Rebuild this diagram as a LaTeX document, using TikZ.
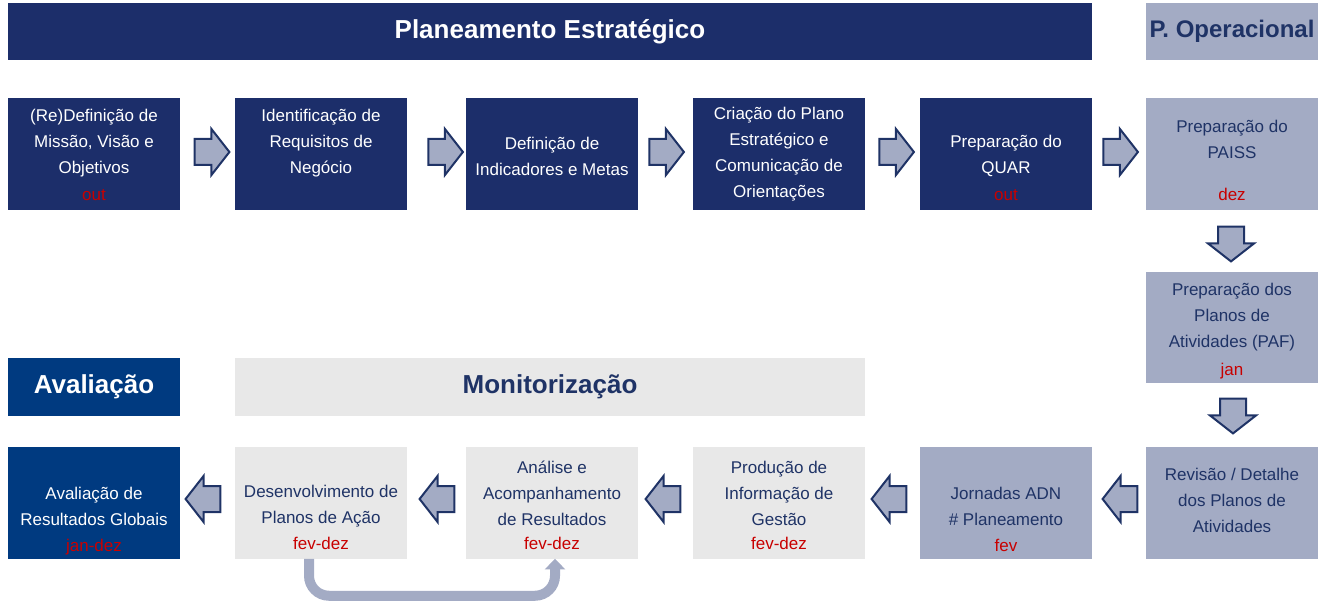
\documentclass[tikz,border=0pt]{standalone}
\usepackage{fontspec}
\setmainfont{Liberation Sans}
\usetikzlibrary{shapes.arrows,arrows.meta}

\definecolor{navy}{HTML}{1C2E6A}
\definecolor{avalblue}{HTML}{003A80}
\definecolor{slate}{HTML}{A3ABC4}
\definecolor{monigray}{HTML}{E8E8E8}
\definecolor{datered}{HTML}{C80000}
\definecolor{darktext}{HTML}{1F3366}

\tikzset{
  head/.style={minimum width=129pt, minimum height=43pt, inner sep=0pt,
    font=\bfseries\fontsize{19.5}{22}\selectfont},
  panel/.style={minimum width=129pt, minimum height=84pt, inner sep=0pt},
  txt/.style={align=center, inner sep=0pt, font=\fontsize{12.75}{19.5}\selectfont},
  date/.style={inner sep=0pt, text=datered, text height=9pt, text depth=3pt,
    font=\fontsize{12.75}{19.5}\selectfont},
  blockarrow/.style={single arrow, single arrow head extend=7.5pt,
    single arrow tip angle=104, minimum height=26pt, minimum width=33pt,
    inner xsep=0pt, inner ysep=9pt, fill=slate, draw=darktext, line width=1.5pt},
  loopline/.style={draw=slate, line width=7.5pt, rounded corners=15pt,
    -{Triangle[width=15pt,length=8pt]}}
}

\begin{document}
\begin{tikzpicture}[x=0.75pt,y=-0.75pt]
    \useasboundingbox (0,0) rectangle (1335,602);
    % headers
    \node[head, fill=navy, text=white, minimum width=813pt] (hpe) at (550,31.5) {Planeamento Estratégico};
    \node[head, fill=slate, text=darktext, font=\bfseries\fontsize{18}{20}\selectfont] (hpo) at (1232,31.5) {P. Operacional};
    \node[head, fill=avalblue, text=white] (hav) at (94,387) {Avaliação};
    \node[head, fill=monigray, text=darktext, minimum width=472.5pt] (hmon) at (550,387) {Monitorização};

    % planeamento estrategico
    \node[panel, fill=navy] (mvo) at (94,154) {};
    \node[panel, fill=navy] (req) at (321,154) {};
    \node[panel, fill=navy] (ind) at (552,154) {};
    \node[panel, fill=navy] (pe) at (779,154) {};
    \node[panel, fill=navy] (quar) at (1006,154) {};
    \node[txt, text=white] (mvo-t) at (94,143) {(Re)Definição de\\Missão, Visão e\\Objetivos};
    \node[date] (mvo-d) at (94,197) {out};
    \node[txt, text=white] (req-t) at (321,143) {Identificação de\\Requisitos de\\Negócio};
    \node[txt, text=white] (ind-t) at (552,156) {Definição de\\Indicadores e Metas};
    \node[txt, text=white] (pe-t) at (779,154) {Criação do Plano\\Estratégico e\\Comunicação de\\Orientações};
    \node[txt, text=white] (quar-t) at (1006,156) {Preparação do\\QUAR};
    \node[date] (quar-d) at (1006,197) {out};

    % planeamento operacional
    \node[panel, fill=slate] (paiss) at (1232,154) {};
    \node[panel, fill=slate, minimum height=83pt] (paf) at (1232,327.5) {};
    \node[panel, fill=slate] (rev) at (1232,502.5) {};
    \node[panel, fill=slate] (adn) at (1006,502.5) {};
    \node[txt, text=darktext] (paiss-t) at (1232,139.5) {Preparação do\\PAISS};
    \node[date] (paiss-d) at (1232,197) {dez};
    \node[txt, text=darktext] (paf-t) at (1232,317) {Preparação dos\\Planos de\\Atividades (PAF)};
    \node[date] (paf-d) at (1232,371) {jan};
    \node[txt, text=darktext] (rev-t) at (1232,500) {Revisão / Detalhe\\dos Planos de\\Atividades};
    \node[txt, text=darktext] (adn-t) at (1006,506) {Jornadas ADN\\\# Planeamento};
    \node[date] (adn-d) at (1006,547) {fev};

    % monitorizacao
    \node[panel, fill=monigray] (info) at (779,502.5) {};
    \node[panel, fill=monigray] (ana) at (552,502.5) {};
    \node[panel, fill=monigray] (pa) at (321,502.5) {};
    \node[txt, text=darktext] (info-t) at (779,493) {Produção de\\Informação de\\Gestão};
    \node[date] (info-d) at (779,545) {fev-dez};
    \node[txt, text=darktext] (ana-t) at (552,493) {Análise e\\Acompanhamento\\de Resultados};
    \node[date] (ana-d) at (552,545) {fev-dez};
    \node[txt, text=darktext] (pa-t) at (321,506) {Desenvolvimento de\\Planos de Ação};
    \node[date] (pa-d) at (321,545) {fev-dez};

    % avaliacao
    \node[panel, fill=avalblue] (arg) at (94,502.5) {};
    \node[txt, text=white] (arg-t) at (94,506) {Avaliação de\\Resultados Globais};
    \node[date] (arg-d) at (94,547) {jan-dez};

    % block arrows
    \node[blockarrow] (a1) at (207,152) {};
    \node[blockarrow] (a2) at (440.5,152) {};
    \node[blockarrow] (a3) at (661.5,152) {};
    \node[blockarrow] (a4) at (891.5,152) {};
    \node[blockarrow] (a5) at (1115.5,152) {};
    \node[blockarrow, rotate=-90] (a6) at (1231,239) {};
    \node[blockarrow, rotate=-90] (a7) at (1233,411) {};
    \node[blockarrow, rotate=180] (a8) at (1125,499) {};
    \node[blockarrow, rotate=180] (a9) at (894,499) {};
    \node[blockarrow, rotate=180] (a10) at (668,499) {};
    \node[blockarrow, rotate=180] (a11) at (442,499) {};
    \node[blockarrow, rotate=180] (a12) at (208,499) {};

    % return loop
    \draw[loopline] ([shift={(-12,0)}]pa.south) -- ++(0,37) -| ([shift={(3,0)}]ana.south);
\end{tikzpicture}
\end{document}
